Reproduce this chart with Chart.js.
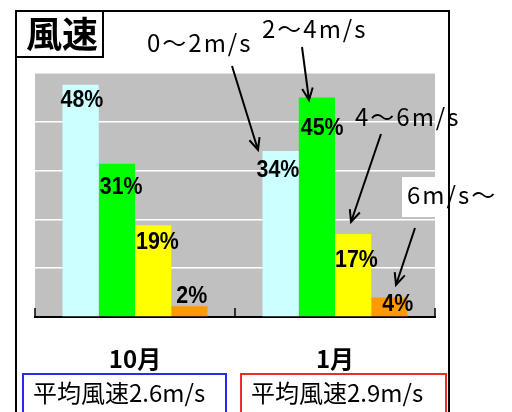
<!DOCTYPE html>
<html>
<head>
<meta charset="utf-8">
<script src="https://cdn.jsdelivr.net/npm/chart.js@4"></script>
<style>
  body { margin: 0; background: #fff; }
  canvas { display: block; }
</style>
</head>
<body>
<canvas id="wind-chart" width="512" height="412"></canvas>
<script>
// data
const months = ['10月', '1月'];
const speedBands = ['0〜2m/s', '2〜4m/s', '4〜6m/s', '6m/s〜'];
const band0to2 = [47.6, 34];
const band2to4 = [31.4, 45];
const band4to6 = [18.8, 17];
const band6up = [2.2, 4];
const avgSpeed = ['2.6', '2.9'];
const yMax = 50;
const yStep = 10;

const bandColors = ['#ccffff', '#00ff00', '#ffff00', '#ff9900'];
const jpFont = '"Noto Sans CJK JP", sans-serif';

// where each % label sits relative to its bar (left edge, top)
const labelDx = [[-2, 1, 1, 5], [-6, 2, 0, 11]];
const labelDy = [[22, 30, 24, -3], [26, 38, 33, 14]];

function arrow(ctx, x1, y1, x2, y2) {
    const a = Math.atan2(y2 - y1, x2 - x1);
    const len = 13, spread = 0.42;
    ctx.beginPath();
    ctx.moveTo(x1, y1);
    ctx.lineTo(x2, y2);
    ctx.moveTo(x2 - len * Math.cos(a - spread), y2 - len * Math.sin(a - spread));
    ctx.lineTo(x2, y2);
    ctx.lineTo(x2 - len * Math.cos(a + spread), y2 - len * Math.sin(a + spread));
    ctx.stroke();
}

const plotBg = {
    id: 'plotBg',
    beforeDraw(chart) {
        const { ctx, chartArea: a } = chart;
        ctx.save();
        ctx.fillStyle = '#fff';
        ctx.fillRect(0, 0, chart.width, chart.height);
        ctx.fillStyle = '#c0c0c0';
        ctx.fillRect(a.left, a.top, a.right - a.left, a.bottom - a.top);
        ctx.restore();
    }
};

const barLabels = {
    id: 'barLabels',
    afterDatasetsDraw(chart) {
        const ctx = chart.ctx;
        ctx.save();
        ctx.fillStyle = '#000';
        ctx.font = 'bold 23px "Liberation Sans", Arial, sans-serif';
        ctx.textAlign = 'left';
        ctx.textBaseline = 'alphabetic';
        chart.data.datasets.forEach((ds, d) => {
            chart.getDatasetMeta(d).data.forEach((bar, i) => {
                const txt = Math.round(ds.data[i]) + '%';
                const w = ctx.measureText(txt).width * 0.93;
                const left = bar.x - bar.width / 2;
                ctx.fillText(txt, left + labelDx[i][d], bar.y + labelDy[i][d], w);
            });
        });
        ctx.restore();
    }
};

const decorations = {
    id: 'decorations',
    afterDraw(chart) {
        const { ctx, chartArea: a } = chart;
        const x = chart.scales.x;
        ctx.save();

        // inside tick marks on the category axis
        ctx.strokeStyle = '#000';
        ctx.lineWidth = 1.5;
        const mid = (x.getPixelForValue(0) + x.getPixelForValue(1)) / 2;
        [a.left, mid, a.right].forEach(px => {
            ctx.beginPath();
            ctx.moveTo(px, a.bottom - 9);
            ctx.lineTo(px, a.bottom);
            ctx.stroke();
        });

        // band annotations
        ctx.fillStyle = '#fff';
        ctx.fillRect(402, 177, 110, 40);
        ctx.fillStyle = '#000';
        ctx.font = '24px ' + jpFont;
        ctx.letterSpacing = '2px';
        ctx.textAlign = 'left';
        ctx.textBaseline = 'middle';
        ctx.fillText(speedBands[0], 147, 43);
        ctx.fillText(speedBands[1], 262, 29);
        ctx.fillText(speedBands[2], 355, 117);
        ctx.fillText(speedBands[3], 407, 195);
        ctx.letterSpacing = '0px';

        ctx.lineWidth = 2;
        arrow(ctx, 232, 66, 258, 150);
        arrow(ctx, 302, 47, 309, 100);
        arrow(ctx, 381, 134, 351, 222);
        arrow(ctx, 415, 228, 396, 285);

        // outer frame
        ctx.strokeStyle = '#000';
        ctx.lineWidth = 2;
        ctx.beginPath();
        ctx.moveTo(16, 420);
        ctx.lineTo(16, 11);
        ctx.lineTo(449, 11);
        ctx.lineTo(449, 420);
        ctx.stroke();

        // title box
        ctx.fillStyle = '#fff';
        ctx.fillRect(16, 11, 87, 46);
        ctx.strokeRect(16, 11, 87, 46);
        ctx.fillStyle = '#000';
        ctx.font = 'bold 36px ' + jpFont;
        ctx.textAlign = 'center';
        ctx.fillText('風速', 62, 34);

        // average speed boxes
        const boxes = [[23, '#2a2aee'], [241, '#ee2a2a']];
        ctx.font = '24px ' + jpFont;
        ctx.textAlign = 'left';
        boxes.forEach(([bx, col], i) => {
            ctx.strokeStyle = col;
            ctx.strokeRect(bx, 374, i ? 205 : 203, 44);
            ctx.fillStyle = '#000';
            ctx.fillText('平均風速' + avgSpeed[i] + 'm/s', bx + 10, 393, 187);
        });
        ctx.restore();
    }
};

new Chart(document.getElementById('wind-chart'), {
    type: 'bar',
    data: {
        labels: months,
        datasets: [band0to2, band2to4, band4to6, band6up].map((vals, i) => ({
            label: speedBands[i],
            data: vals,
            backgroundColor: bandColors[i],
            borderWidth: 0,
            categoryPercentage: 0.725,
            barPercentage: 1.0
        }))
    },
    options: {
        responsive: false,
        animation: false,
        layout: { padding: { left: 35, right: 77, top: 73, bottom: 0 } },
        plugins: { legend: { display: false }, tooltip: { enabled: false } },
        scales: {
            x: {
                afterFit: s => { s.height = 95; },
                grid: { display: false },
                border: { color: '#000', width: 2 },
                ticks: {
                    color: '#000',
                    padding: 19,
                    font: { family: jpFont, size: 24, weight: 'bold' }
                }
            },
            y: {
                min: 0,
                max: yMax,
                afterFit: s => { s.width = 0; },
                ticks: { display: false, stepSize: yStep },
                border: { display: false },
                grid: { color: '#fff', lineWidth: 1.5, drawTicks: false }
            }
        }
    },
    plugins: [plotBg, barLabels, decorations]
});
</script>
</body>
</html>
